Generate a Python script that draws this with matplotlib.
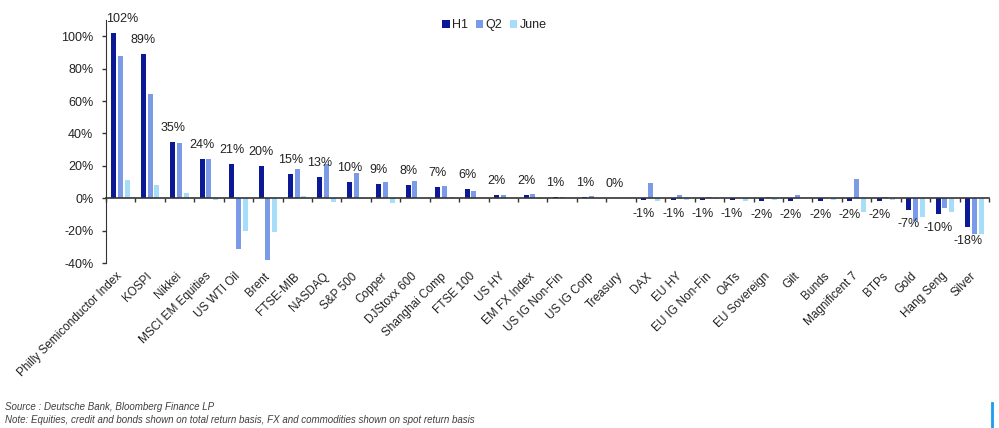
import numpy as np
import matplotlib
matplotlib.use("Agg")
import matplotlib.pyplot as plt
from matplotlib.ticker import FuncFormatter, FixedLocator

# Data (returns in %)
assets = ["Philly Semiconductor Index", "KOSPI", "Nikkei", "MSCI EM Equities", "US WTI Oil",
          "Brent", "FTSE-MIB", "NASDAQ", "S&P 500", "Copper", "DJStoxx 600", "Shanghai Comp",
          "FTSE 100", "US HY", "EM FX Index", "US IG Non-Fin", "US IG Corp", "Treasury", "DAX",
          "EU HY", "EU IG Non-Fin", "OATs", "EU Sovereign", "Gilt", "Bunds", "Magnificent 7",
          "BTPs", "Gold", "Hang Seng", "Silver"]
h1 = [102, 89, 35, 24, 21, 20, 15, 13, 10, 9, 8, 7, 6, 2, 2, 1, 1, 0.2, -1, -1,
      -1, -1, -1.5, -1.5, -1.5, -1.5, -1.5, -7, -10, -18]
h1_labels = [102, 89, 35, 24, 21, 20, 15, 13, 10, 9, 8, 7, 6, 2, 2, 1, 1, 0, -1, -1,
             -1, -1, -2, -2, -2, -2, -2, -7, -10, -18]
q2 = [88, 64.5, 34, 24.3, -31.3, -38, 18, 21, 15.3, 10.3, 10.7, 7.8, 4.5, 2.2, 2.5, 1, 1.2, 0.3,
      9.3, 2.3, 1, 0.3, 0.5, 2.3, 0.2, 11.6, 1, -13.8, -6.2, -22]
june = [11, 8, 3.5, -0.8, -20, -20.6, 1.5, -2.5, -0.5, -2.8, 0.2, 0.5, 0.2, 0.3, -0.5, 0.2, 0.1,
        0.2, -2, -0.8, -0.5, -1.6, -1, 0.2, -1, -8.4, -1, -11.7, -8.2, -22]

c_h1, c_q2, c_june = "#0b1a94", "#7b9be8", "#a6defa"
txt = "#222222"

plt.rcParams["font.family"] = ["Liberation Sans", "DejaVu Sans"]

fig = plt.figure(figsize=(9.99, 4.28), dpi=100)
ax = fig.add_axes([0.106, 0.3855, 0.884, 0.5675])

x = np.arange(len(assets))
w = 0.17
step = 0.228
ax.bar(x - step, h1, w, color=c_h1, label="H1")
ax.bar(x, q2, w, color=c_q2, label="Q2")
ax.bar(x + step, june, w, color=c_june, label="June")

ax.set_xlim(-0.5, len(assets) - 0.5)
ax.set_ylim(-40, 110)

# value labels for H1
for i, (v, lab) in enumerate(zip(h1, h1_labels)):
    xi = x[i] - step
    ha = "center"
    if i == 0:
        xi, ha = x[i] - 0.5, "left"
    off = 14 if v >= 0 else -14
    ax.annotate(f"{lab}%", (xi, v), xytext=(0, off), textcoords="offset pixels",
                ha=ha, va="center", fontsize=9, color=txt)

# y axis
ax.set_yticks(np.arange(-40, 101, 20))
ax.yaxis.set_major_formatter(FuncFormatter(lambda v, p: f"{v:.0f}%"))
ax.tick_params(axis="y", direction="out", length=3, width=1, color="#333333",
               labelsize=9, labelcolor=txt, pad=6)

# x axis along zero line
for s in ["top", "right"]:
    ax.spines[s].set_visible(False)
ax.spines["left"].set_color("#333333")
ax.spines["left"].set_bounds(-40, 110)
ax.spines["bottom"].set_position(("data", 0))
ax.spines["bottom"].set_color("#333333")
ax.spines["bottom"].set_linewidth(1.2)
ax.set_xticks(x)
ax.xaxis.set_minor_locator(FixedLocator(np.arange(-0.5, len(assets), 1)))
ax.tick_params(axis="x", which="major", length=0, pad=55)
ax.tick_params(axis="x", which="minor", direction="out", length=3, width=1, color="#333333")
ax.set_xticklabels(assets, rotation=45, ha="right", va="center", rotation_mode="anchor",
                   fontsize=8.5, color=txt)

leg = ax.legend(loc="upper center", bbox_to_anchor=(0.44, 1.05), ncol=3, frameon=False,
                fontsize=9, handlelength=0.6, handleheight=0.6, handletextpad=0.2,
                columnspacing=0.6, labelcolor=txt)

fig.text(0.005, 0.042, "Source : Deutsche Bank, Bloomberg Finance LP", fontsize=7,
         style="italic", color="#404040")
fig.text(0.005, 0.012, "Note: Equities, credit and bonds shown on total return basis, FX and commodities shown on spot return basis",
         fontsize=7, style="italic", color="#404040")
fig.add_artist(plt.Line2D([0.993, 0.993], [0.0, 0.058], transform=fig.transFigure,
                          color="#1a9cf0", linewidth=2))

fig.savefig("out.png", dpi=100)
